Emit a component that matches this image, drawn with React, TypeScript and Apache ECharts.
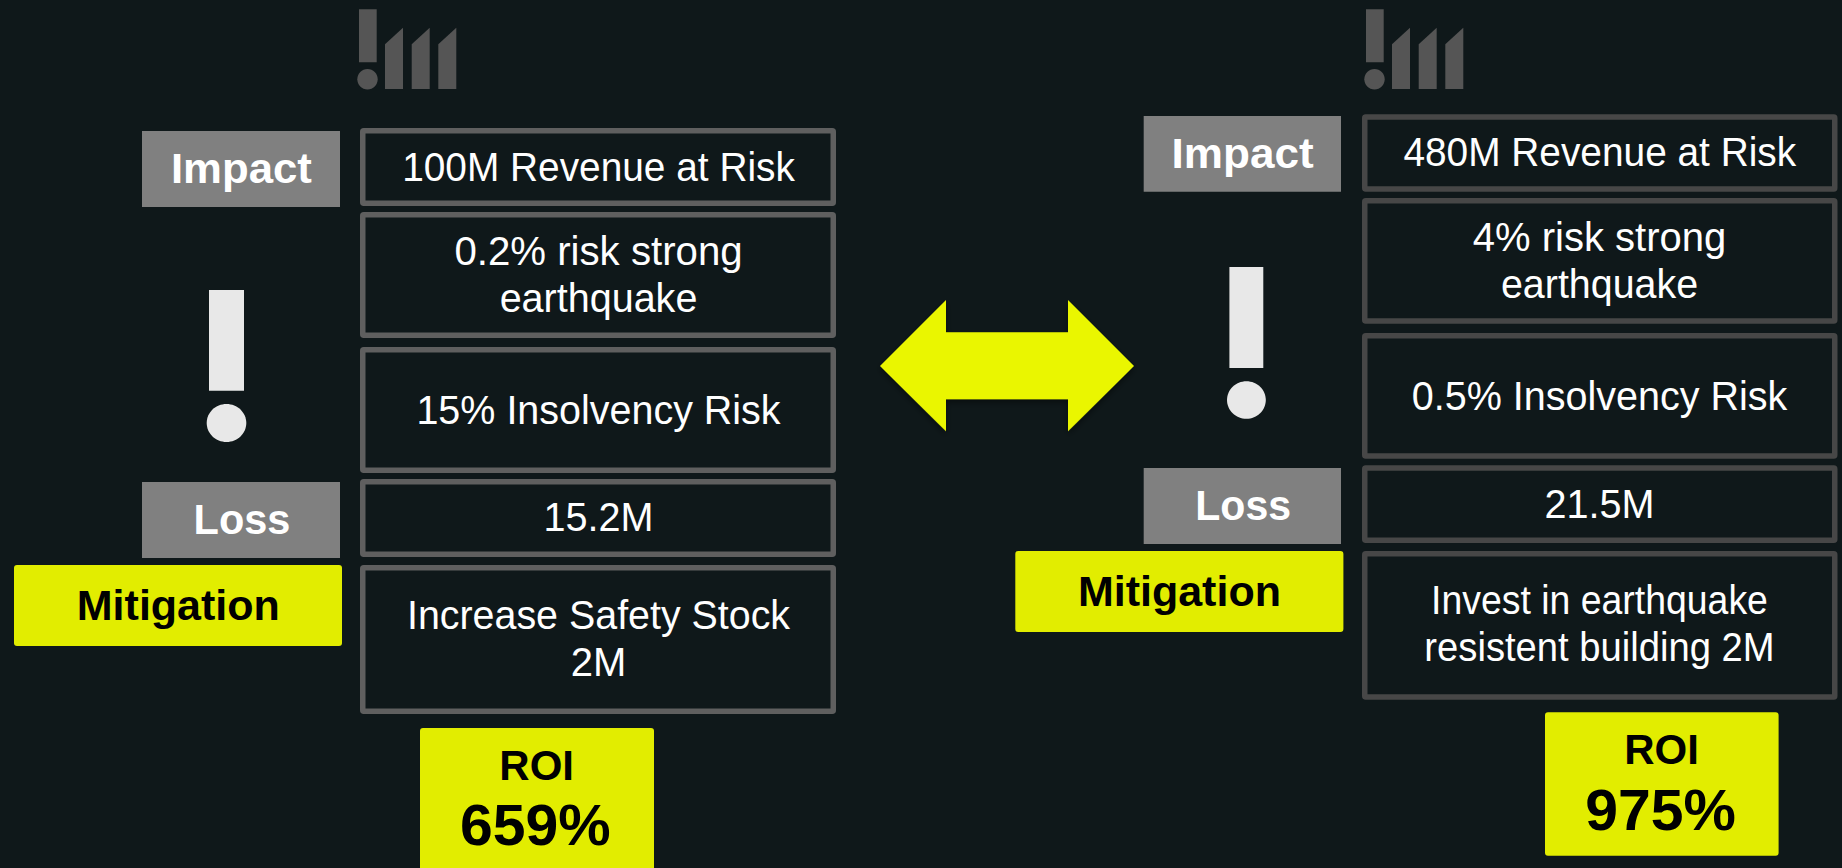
import React, { useEffect, useRef } from "react";
import * as echarts from "echarts";

const leftValues = [
  "100M Revenue at Risk",
  "0.2% risk strong\nearthquake",
  "15% Insolvency Risk",
  "15.2M",
  "Increase Safety Stock\n2M",
];
const rightValues = [
  "480M Revenue at Risk",
  "4% risk strong\nearthquake",
  "0.5% Insolvency Risk",
  "21.5M",
  "Invest in earthquake\nresistent building 2M",
];
const labels = ["Impact", "Loss", "Mitigation"];
const roiTitle = "ROI";
const roiValues = ["659%", "975%"];

const BG = "#0f181a";
const FONT = "'Liberation Sans', Arial, sans-serif";
const YELLOW = "#e2ed00";
const ARROW = "#eaf600";
const GREY = "#808080";
const LOGO = "#555555";
const BIG = "#e8e8e8";
const BORDER_L = "#5f5f5f";
const BORDER_R = "#474747";

const one = (text: string, x: number, y: number, size: number, bold: boolean, fill: string, sx: number) => ({
  type: "text",
  x,
  y,
  scaleX: sx,
  style: {
    text,
    fill,
    fontFamily: FONT,
    fontSize: size,
    fontWeight: bold ? "bold" : "normal",
    align: "center",
    verticalAlign: "middle",
    textAlign: "center",
    textVerticalAlign: "middle",
  },
});

// one element per written line, so that each line can be fitted to its own width
const txt = (
  text: string,
  x: number,
  ys: number[],
  size: number,
  bold: boolean,
  fill: string,
  sx: number[] = [1, 1],
) => text.split("\n").map((line, i) => one(line, x, ys[i], size, bold, fill, sx[i]));

const box = (x0: number, y0: number, x1: number, y1: number, stroke: string) => ({
  type: "rect",
  shape: { x: x0 + 2.75, y: y0 + 2.75, width: x1 - x0 - 5.5, height: y1 - y0 - 5.5, r: 1 },
  style: { fill: "transparent", stroke, lineWidth: 5.5 },
});

const fillRect = (x0: number, y0: number, x1: number, y1: number, fill: string, r = 0) => ({
  type: "rect",
  shape: { x: x0, y: y0, width: x1 - x0, height: y1 - y0, r },
  style: { fill },
});

const logo = (dx: number) => [
  fillRect(359 + dx, 9.3, 376.7 + dx, 62.3, LOGO),
  { type: "ellipse", shape: { cx: 367.5 + dx, cy: 79.2, rx: 10.2, ry: 10.2 }, style: { fill: LOGO } },
  ...[385, 411.7, 438.3].map((x) => ({
    type: "polygon",
    shape: {
      points: [
        [x + dx, 89],
        [x + dx, 44.3],
        [x + 18 + dx, 27.7],
        [x + 18 + dx, 89],
      ],
    },
    style: { fill: LOGO },
  })),
];

const graphics = [
  ...logo(0),
  ...logo(1007),

  // left column
  fillRect(142, 131, 340, 207, GREY),
  fillRect(142, 482, 340, 558, GREY),
  fillRect(14, 565, 342, 646, YELLOW, 3),
  fillRect(420, 728, 654, 880, YELLOW, 3),
  box(360, 128, 836, 206, BORDER_L),
  box(360, 212, 836, 338, BORDER_L),
  box(360, 347, 836, 473, BORDER_L),
  box(360, 479, 836, 557, BORDER_L),
  box(360, 565, 836, 714, BORDER_L),
  fillRect(209, 290, 244, 390.7, BIG),
  { type: "ellipse", shape: { cx: 226.5, cy: 423, rx: 19.8, ry: 19 }, style: { fill: BIG } },

  ...txt(labels[0], 241.4, [168.5], 43, true, "#ffffff", [1.017]),
  ...txt(labels[1], 242, [519.5], 43, true, "#ffffff", [0.965]),
  ...txt(labels[2], 178.3, [604.7], 43, true, "#000000"),
  ...txt(leftValues[0], 598.5, [167], 40, false, "#ffffff", [0.971]),
  ...txt(leftValues[1], 598.5, [251, 298], 40, false, "#ffffff", [1.005, 0.988]),
  ...txt(leftValues[2], 598.5, [410], 40, false, "#ffffff", [0.987]),
  ...txt(leftValues[3], 598.5, [517.3], 40, false, "#ffffff", [0.99]),
  ...txt(leftValues[4], 598.5, [615.3, 662], 40, false, "#ffffff", [0.985, 1]),
  ...txt(roiTitle, 536.7, [765], 42, true, "#000000"),
  ...txt(roiValues[0], 535.4, [824.7], 58, true, "#000000", [1.016]),

  // arrow
  {
    type: "polygon",
    shape: {
      points: [
        [880, 366],
        [946, 300],
        [946, 332.3],
        [1068, 332.3],
        [1068, 300],
        [1134, 366],
        [1068, 431.3],
        [1068, 399.3],
        [946, 399.3],
        [946, 431.3],
      ],
    },
    style: { fill: ARROW, shadowBlur: 6, shadowOffsetY: 3, shadowColor: "rgba(0,0,0,0.45)" },
  },

  // right column
  fillRect(1143.7, 116, 1341, 191.7, GREY),
  fillRect(1143.7, 468, 1341, 544, GREY),
  fillRect(1015.3, 551, 1343.4, 632, YELLOW, 3),
  fillRect(1545, 712.3, 1778.6, 855.7, YELLOW, 3),
  box(1362, 114.3, 1837.5, 191.7, BORDER_R),
  box(1362, 198, 1837.5, 323.7, BORDER_R),
  box(1362, 333, 1837.5, 458.7, BORDER_R),
  box(1362, 465.3, 1837.5, 543, BORDER_R),
  box(1362, 551, 1837.5, 699.7, BORDER_R),
  fillRect(1229.4, 267, 1263.3, 368, BIG),
  { type: "ellipse", shape: { cx: 1246.4, cy: 400, rx: 19.4, ry: 18.8 }, style: { fill: BIG } },

  ...txt(labels[0], 1242.6, [153.5], 43, true, "#ffffff", [1.025]),
  ...txt(labels[1], 1243.2, [505], 43, true, "#ffffff", [0.955]),
  ...txt(labels[2], 1179.4, [590.7], 43, true, "#000000"),
  ...txt(rightValues[0], 1599.8, [152], 40, false, "#ffffff", [0.971]),
  ...txt(rightValues[1], 1599.5, [237, 283.5], 40, false, "#ffffff", [1, 0.985]),
  ...txt(rightValues[2], 1599.5, [395.5], 40, false, "#ffffff", [0.988]),
  ...txt(rightValues[3], 1599.5, [503.5], 40, false, "#ffffff", [0.99]),
  ...txt(rightValues[4], 1599.5, [600, 647.5], 40, false, "#ffffff", [0.935, 0.955]),
  ...txt(roiTitle, 1661.5, [749.5], 42, true, "#000000"),
  ...txt(roiValues[1], 1660.6, [809.5], 58, true, "#000000", [1.016]),
];

export default function App() {
  const ref = useRef<HTMLDivElement>(null);
  useEffect(() => {
    const chart = echarts.init(ref.current!, undefined, { renderer: "svg" });
    chart.setOption({
      animation: false,
      backgroundColor: BG,
      graphic: { elements: graphics },
    });
    return () => chart.dispose();
  }, []);
  return (
    <div
      ref={ref}
      style={{ position: "fixed", left: 0, top: 0, width: 1842, height: 868 }}
    />
  );
}
